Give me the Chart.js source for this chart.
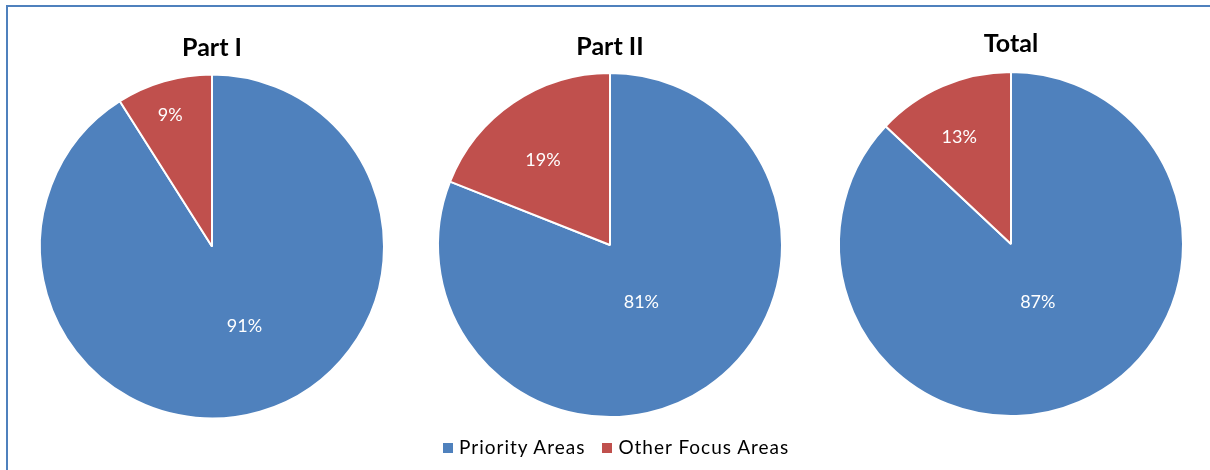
<!DOCTYPE html>
<html>
<head>
<meta charset="utf-8">
<script src="https://cdn.jsdelivr.net/npm/chart.js@4"></script>
<style>
  html, body { margin: 0; padding: 0; background: #fff; overflow: hidden; }
  #frame { position: absolute; left: 6px; top: 5px; width: 1300px; height: 600px;
           border-top: 2px solid #4F81BD; border-left: 2px solid #4F81BD; }
  .pie { position: absolute; top: 0; width: 400px; height: 470px; }
  #legend { position: absolute; left: 443px; top: 435px; font-family: Lato, sans-serif;
            font-size: 19px; letter-spacing: 1px; color: #000; white-space: nowrap; }
  #legend span.box { display: inline-block; width: 10px; height: 10px; margin-right: 6px; vertical-align: 1px; }
  #legend span.item { margin-right: 17px; }
</style>
</head>
<body>
<div id="frame"></div>
<div class="pie" style="left:12px"><canvas id="c1"></canvas></div>
<div class="pie" style="left:410px"><canvas id="c2"></canvas></div>
<div class="pie" style="left:811px"><canvas id="c3"></canvas></div>
<div id="legend"></div>
<script>
const categories = ['Priority Areas', 'Other Focus Areas'];
const partI = [91, 9];
const partII = [81, 19];
const total = [87, 13];
const titles = ['Part I', 'Part II', 'Total'];
const colors = ['#4F81BD', '#C0504D'];

// draws the percent text inside each slice
const sliceLabels = {
  id: 'sliceLabels',
  afterDatasetsDraw(chart, args, opts) {
    const ctx = chart.ctx;
    const meta = chart.getDatasetMeta(0);
    const vals = chart.data.datasets[0].data;
    ctx.save();
    ctx.fillStyle = '#fff';
    ctx.font = '18px Lato, sans-serif';
    ctx.textAlign = 'center';
    ctx.textBaseline = 'middle';
    meta.data.forEach((arc, i) => {
      const p = arc.getProps(['x', 'y', 'startAngle', 'endAngle', 'outerRadius'], true);
      const a = (p.startAngle + p.endAngle) / 2 + opts.turn[i] * Math.PI / 180;
      const r = p.outerRadius * opts.frac[i];
      ctx.fillText(vals[i] + '%', p.x + Math.cos(a) * r, p.y + Math.sin(a) * r);
    });
    ctx.restore();
  }
};

function makePie(id, title, values, titleTop, padBottom, frac, turn) {
  return new Chart(document.getElementById(id), {
    type: 'pie',
    data: {
      labels: categories,
      datasets: [{
        data: values,
        backgroundColor: colors,
        borderColor: '#fff',
        borderWidth: 2,
        hoverOffset: 0
      }]
    },
    options: {
      responsive: true,
      maintainAspectRatio: false,
      animation: false,
      radius: 172,
      layout: { padding: { bottom: padBottom } },
      plugins: {
        legend: { display: false },
        tooltip: { enabled: false },
        title: {
          display: true,
          text: title,
          color: '#000',
          font: { family: 'Lato, sans-serif', size: 25, weight: 'bold' },
          padding: { top: titleTop, bottom: 4 }
        },
        sliceLabels: { frac: frac, turn: turn }
      }
    },
    plugins: [sliceLabels]
  });
}

makePie('c1', titles[0], partI, 32.5, 43.5, [0.5, 0.8], [-6, -1.5]);
makePie('c2', titles[1], partII, 31.5, 45.5, [0.38, 0.63], [5.5, -4]);
makePie('c3', titles[2], total, 28.5, 44.5, [0.37, 0.69], [-1.5, -2.5]);

const legend = document.getElementById('legend');
categories.forEach((c, i) => {
  const item = document.createElement('span');
  item.className = 'item';
  item.innerHTML = '<span class="box" style="background:' + colors[i] + '"></span>' + c;
  legend.appendChild(item);
});
</script>
</body>
</html>
